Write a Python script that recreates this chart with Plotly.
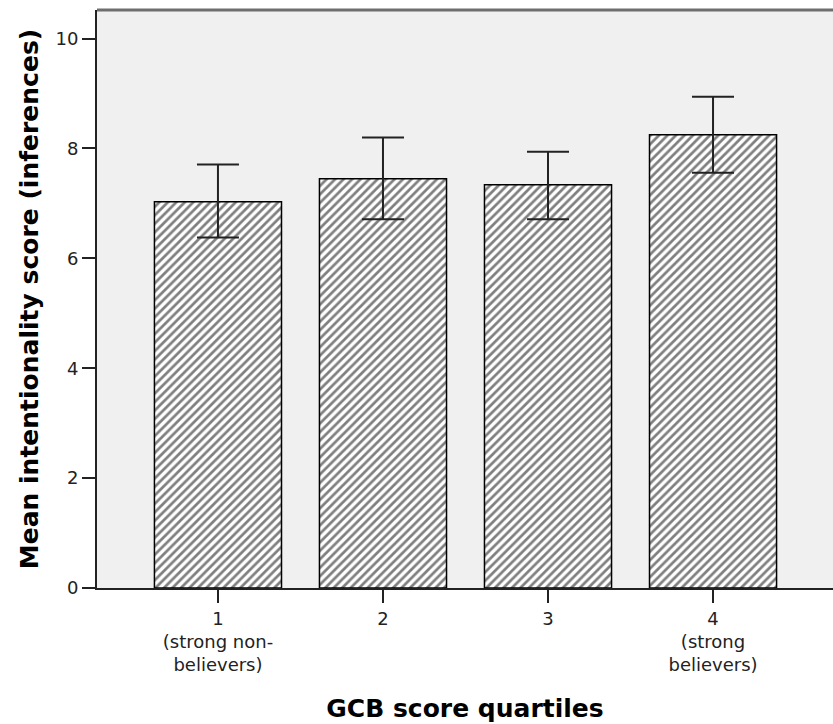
import plotly.graph_objects as go

# Quartile groups and their mean scores with confidence limits
quartiles = [1, 2, 3, 4]
tick_labels = ["1<br>(strong non-<br>believers)", "2", "3", "4<br>(strong<br>believers)"]
means = [7.03, 7.45, 7.34, 8.25]
ci_upper = [7.71, 8.20, 7.94, 8.94]
ci_lower = [6.38, 6.71, 6.71, 7.56]

err_plus = [u - m for u, m in zip(ci_upper, means)]
err_minus = [m - l for m, l in zip(means, ci_lower)]

FONT = "DejaVu Sans, Verdana, sans-serif"

fig = go.Figure()
fig.add_trace(go.Bar(
    x=quartiles,
    y=means,
    width=0.77,
    marker=dict(
        color="white",
        line=dict(color="black", width=1.5),
        pattern=dict(shape="/", size=6, solidity=0.45, fgcolor="black", bgcolor="white"),
    ),
    error_y=dict(
        type="data", symmetric=False, array=err_plus, arrayminus=err_minus,
        color="#222222", thickness=2, width=21,
    ),
    showlegend=False,
))

fig.update_layout(
    width=833, height=724,
    margin=dict(l=97, r=0, t=10, b=136),
    paper_bgcolor="white",
    plot_bgcolor="#f0f0f0",
    font=dict(family=FONT, color="#222222", size=18),
    xaxis=dict(
        range=[0.267, 4.727],
        tickmode="array", tickvals=quartiles, ticktext=tick_labels,
        ticks="outside", ticklen=13, tickwidth=2, tickcolor="#222222",
        showline=True, linecolor="#222222", linewidth=2,
        showgrid=False, zeroline=False,
        tickfont=dict(size=18),
        title=dict(text="<b>GCB score quartiles</b>", font=dict(size=25, color="black"), standoff=25),
    ),
    yaxis=dict(
        range=[0, 10.52],
        tickvals=[0, 2, 4, 6, 8, 10],
        ticks="outside", ticklen=13, tickwidth=2, tickcolor="#222222",
        showline=True, linecolor="#222222", linewidth=2,
        showgrid=False, zeroline=False,
        tickfont=dict(size=18),
        title=dict(text="<b>Mean intentionality score (inferences)</b>", font=dict(size=25, color="black"), standoff=10),
    ),
    shapes=[dict(type="line", xref="paper", yref="paper", x0=0, x1=1, y0=1, y1=1,
                 line=dict(color="#6e6e6e", width=3))],
)

fig.write_html("out.html")
